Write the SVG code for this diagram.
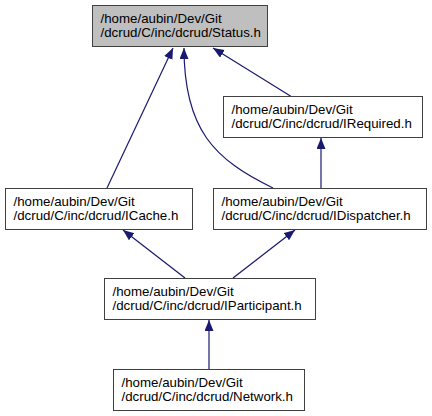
<svg xmlns="http://www.w3.org/2000/svg" width="432" height="416" viewBox="0 0 432 416">
<style>
.box{fill:#ffffff;stroke:#404040;stroke-width:1}
.root{fill:#bfbfbf}
text{font-family:"Liberation Sans",Arial,sans-serif;font-size:13.3px;fill:#000}
.e{fill:none;stroke:#191970;stroke-width:1.2}
</style>
<defs>
<marker id="ah" markerUnits="userSpaceOnUse" markerWidth="12" markerHeight="10" refX="11" refY="4.5" orient="auto">
<path d="M0,0 L11,4.5 L0,9 z" fill="#191970"/>
</marker>
</defs>
<rect width="432" height="416" fill="#ffffff"/>
<g id="edges">
<path class="e" d="M107,188 L173,48" marker-end="url(#ah)"/>
<path class="e" d="M273,188 C215,160 184,130 184,48" marker-end="url(#ah)"/>
<path class="e" d="M292,97 L213,48" marker-end="url(#ah)"/>
<path class="e" d="M321,188 L321,138" marker-end="url(#ah)"/>
<path class="e" d="M185,278 L123,230" marker-end="url(#ah)"/>
<path class="e" d="M233,278 L295,230" marker-end="url(#ah)"/>
<path class="e" d="M209,369 L209,320" marker-end="url(#ah)"/>
</g>
<g id="status">
<rect class="box root" x="92.5" y="5.5" width="175" height="41"/>
<text x="100.5" y="22.5">/home/aubin/Dev/Git</text>
<text x="100.5" y="36.5">/dcrud/C/inc/dcrud/Status.h</text>
</g>
<g id="irequired">
<rect class="box" x="223.5" y="96.5" width="199" height="41"/>
<text x="231.5" y="113.5">/home/aubin/Dev/Git</text>
<text x="231.5" y="127.5">/dcrud/C/inc/dcrud/IRequired.h</text>
</g>
<g id="icache">
<rect class="box" x="5.5" y="188.5" width="187" height="41"/>
<text x="13.5" y="205.5">/home/aubin/Dev/Git</text>
<text x="13.5" y="219.5">/dcrud/C/inc/dcrud/ICache.h</text>
</g>
<g id="idispatcher">
<rect class="box" x="213.5" y="188.5" width="213" height="41"/>
<text x="221.5" y="205.5">/home/aubin/Dev/Git</text>
<text x="221.5" y="219.5">/dcrud/C/inc/dcrud/IDispatcher.h</text>
</g>
<g id="iparticipant">
<rect class="box" x="104.5" y="278.5" width="211" height="41"/>
<text x="112.5" y="295.5">/home/aubin/Dev/Git</text>
<text x="112.5" y="309.5">/dcrud/C/inc/dcrud/IParticipant.h</text>
</g>
<g id="network">
<rect class="box" x="113.5" y="369.5" width="191" height="41"/>
<text x="121.5" y="386.5">/home/aubin/Dev/Git</text>
<text x="121.5" y="400.5">/dcrud/C/inc/dcrud/Network.h</text>
</g>
</svg>
